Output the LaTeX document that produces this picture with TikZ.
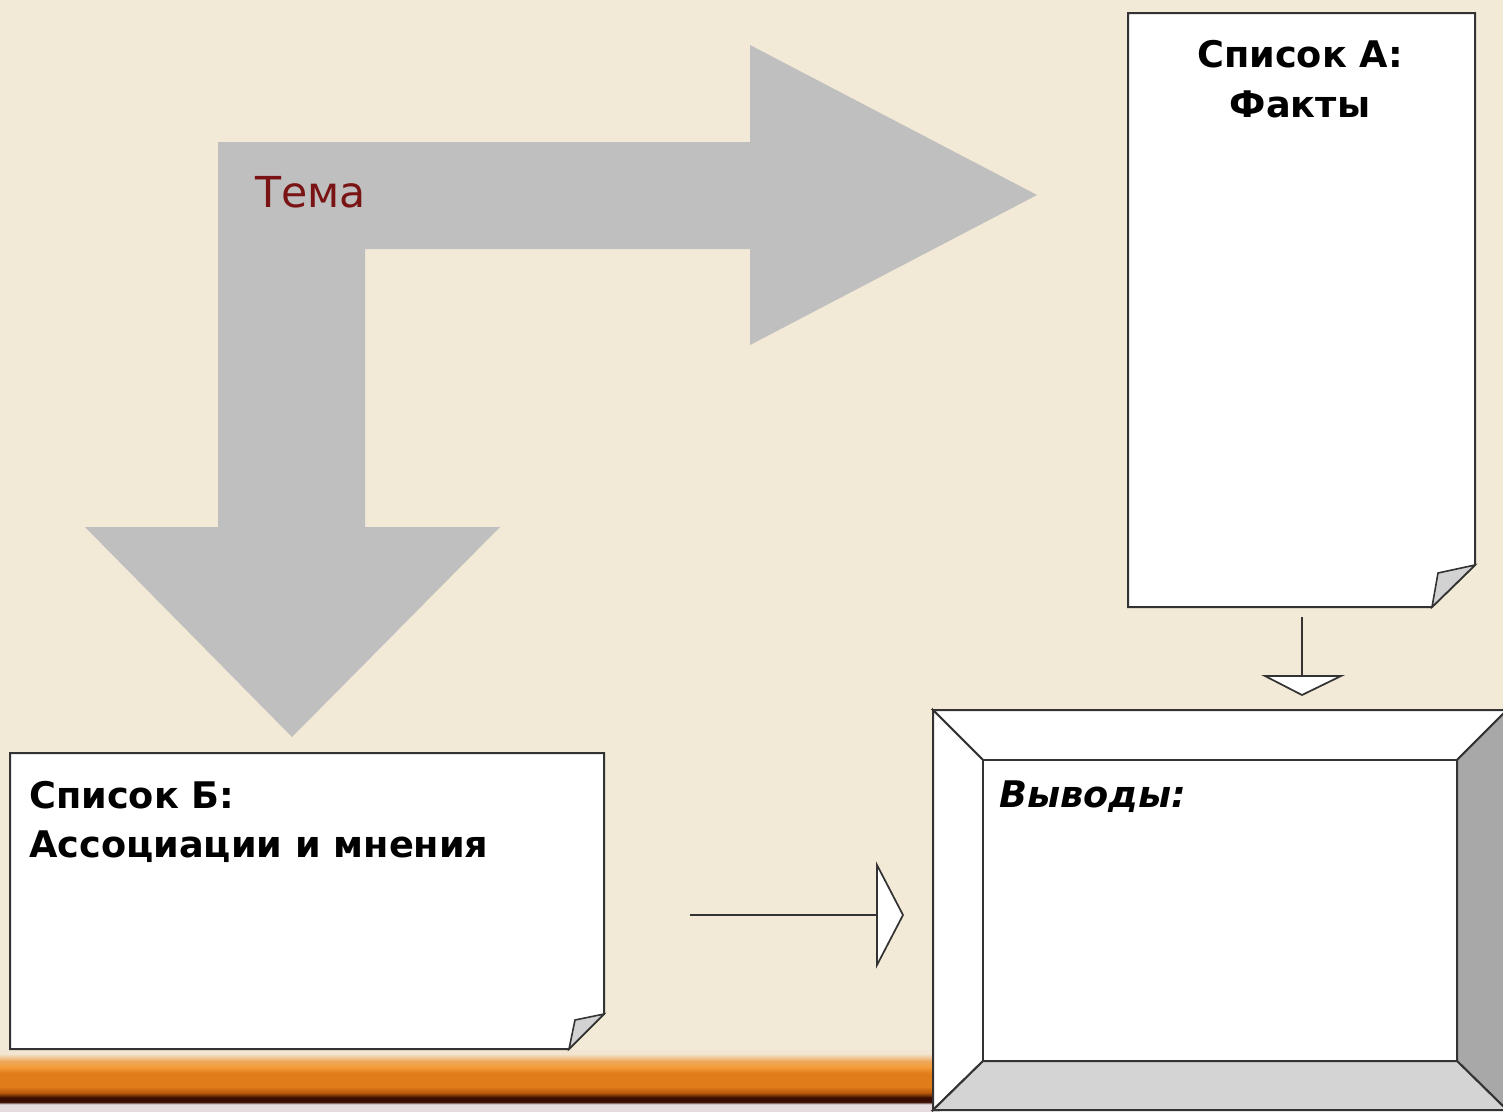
\documentclass[tikz,border=0pt]{standalone}
\usepackage{fontspec}
\setmainfont{DejaVu Sans}
\usetikzlibrary{calc}
\definecolor{parch}{HTML}{F2E9D6}
\definecolor{arrowgray}{HTML}{BFBFBF}
\definecolor{edge}{HTML}{333333}
\definecolor{flap}{HTML}{D2D2D2}
\definecolor{bevright}{HTML}{A8A8A8}
\definecolor{bevbottom}{HTML}{D4D4D4}
\definecolor{temared}{HTML}{7A1414}
\definecolor{orA}{HTML}{F2E6D2}
\definecolor{orAB}{HTML}{EDA85C}
\definecolor{orB}{HTML}{F59C38}
\definecolor{orC}{HTML}{E07C1A}
\definecolor{orD}{HTML}{B85A0C}
\definecolor{orE}{HTML}{3A0C02}
\definecolor{orF}{HTML}{E6DCE0}
\pgfdeclareverticalshading{woodbar}{100bp}{
  color(0bp)=(orF); color(30.5bp)=(orF); color(32.5bp)=(orE); color(36bp)=(orE);
  color(40bp)=(orD); color(45bp)=(orC); color(56bp)=(orC); color(61bp)=(orB);
  color(66bp)=(orAB); color(72bp)=(orA); color(100bp)=(orA)}
\tikzset{
  outline/.style={draw=edge, line width=1.5pt, line join=miter},
  paper/.style={outline, fill=white},
  flapstyle/.style={outline, line width=1.2pt, fill=flap},
  hollowhead/.style={draw=edge, line width=1.3pt, fill=white, line join=miter},
  shaft/.style={draw=edge, line width=1.6pt},
  boxtext/.style={font=\fontsize{27.5pt}{36pt}\selectfont\bfseries, inner sep=0pt, text=black},
}
\begin{document}
\begin{tikzpicture}[x=0.75pt, y=-0.75pt]
\useasboundingbox (0,0) rectangle (1503,1111);
\clip (0,0) rectangle (1503,1111);
% background
\fill[parch] (0,0) rectangle (1503,1111);
% wooden bar
\shade[shading=woodbar] (0,1050) rectangle (940,1111);
% big bent arrow
\fill[arrowgray] (218,142) -- (750,142) -- (750,45) -- (1037,195) -- (750,345)
  -- (750,249) -- (365,249) -- (365,527) -- (500,527) -- (292,737) -- (85,527)
  -- (218,527) -- cycle;
\node[anchor=base west, inner sep=0pt, text=temared, font=\fontsize{32pt}{38pt}\selectfont] (tema) at (255,207) {Тема};
% list A
\path[paper] (1128,13) -- (1475,13) -- (1475,565) -- (1432,607) -- (1128,607) -- cycle;
\path[flapstyle] (1475,565) -- (1438,573) -- (1432,607) -- cycle;
\node[boxtext, anchor=base] (listA) at (1300,67) {Список А:};
\node[boxtext, anchor=base] (listAb) at (1300,117) {Факты};
% list B
\path[paper] (10,753) -- (604,753) -- (604,1014) -- (569,1049) -- (10,1049) -- cycle;
\path[flapstyle] (604,1014) -- (575,1020) -- (569,1049) -- cycle;
\node[boxtext, anchor=base west] (listB) at (29,808) {Список Б:};
\node[boxtext, anchor=base west] (listBb) at (29,857) {Ассоциации и мнения};
% conclusions bevel box
\coordinate (oTL) at (933,710); \coordinate (oTR) at (1507,710);
\coordinate (oBL) at (933,1110); \coordinate (oBR) at (1507,1110);
\coordinate (iTL) at (983,760); \coordinate (iTR) at (1457,760);
\coordinate (iBL) at (983,1061); \coordinate (iBR) at (1457,1061);
\path[outline, fill=white] (oTL) -- (oTR) -- (iTR) -- (iTL) -- cycle;
\path[outline, fill=white] (oTL) -- (iTL) -- (iBL) -- (oBL) -- cycle;
\path[outline, fill=bevright] (oTR) -- (oBR) -- (iBR) -- (iTR) -- cycle;
\path[outline, fill=bevbottom] (oBL) -- (iBL) -- (iBR) -- (oBR) -- cycle;
\path[outline, fill=white] (iTL) rectangle (iBR);
\node[boxtext, anchor=base west, font=\fontsize{27.5pt}{36pt}\selectfont\bfseries\itshape] (concl) at (999,807) {Выводы:};
% arrow from list A down
\coordinate (aS) at (1302,617); \coordinate (aE) at (1302,676);
\draw[shaft] (aS) -- (aE);
\path[hollowhead] (1265,676) -- (1341,676) -- (1302,695) -- cycle;
% arrow from list B right
\coordinate (bS) at (690,915); \coordinate (bE) at (877,915);
\draw[shaft] (bS) -- (bE);
\path[hollowhead] (877,865) -- (903,915) -- (877,965) -- cycle;
\end{tikzpicture}
\end{document}
